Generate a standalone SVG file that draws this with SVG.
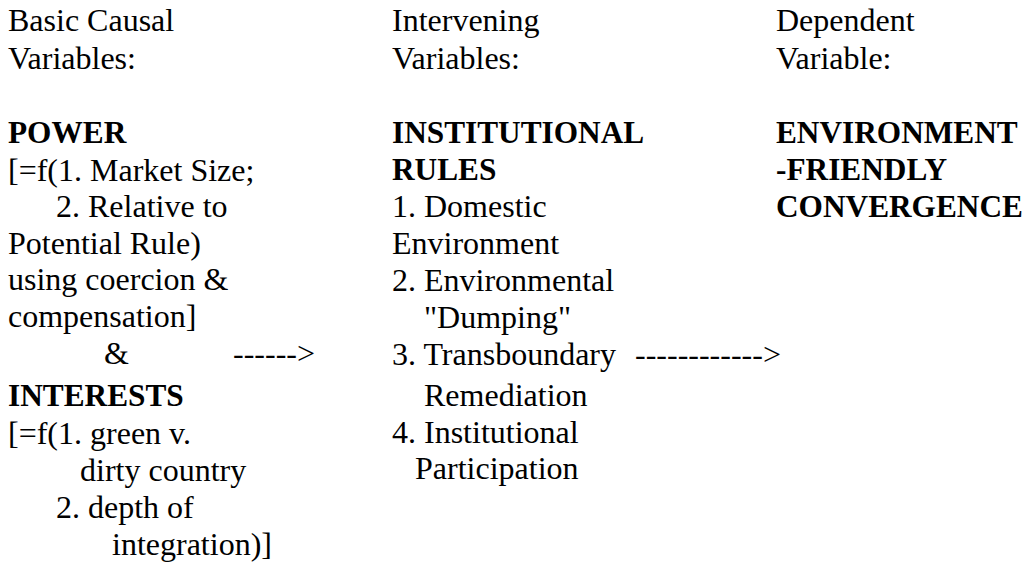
<svg xmlns="http://www.w3.org/2000/svg" width="1031" height="567" viewBox="0 0 1031 567">
<style>
.t{font-family:'Liberation Serif','Times New Roman',Tinos,'DejaVu Serif',serif;font-size:32px;fill:#000}
.b{font-weight:bold;font-size:31.3px}
</style>
<rect width="1031" height="567" fill="#fff"/>
<g class="t">
<g id="basic-causal">
<text x="8" y="31">Basic Causal</text>
<text x="8" y="69">Variables:</text>
<text x="8" y="143" class="b">POWER</text>
<text x="8" y="181">[=f(1. Market Size;</text>
<text x="56" y="217">2. Relative to</text>
<text x="8" y="254">Potential Rule)</text>
<text x="8" y="290">using coercion &amp;</text>
<text x="8" y="327">compensation]</text>
<text x="104" y="364">&amp;</text>
<text x="8" y="406" class="b">INTERESTS</text>
<text x="8" y="444">[=f(1. green v.</text>
<text x="80" y="481">dirty country</text>
<text x="56" y="518">2. depth of</text>
<text x="112" y="555">integration)]</text>
</g>
<g id="intervening">
<text x="392" y="31">Intervening</text>
<text x="392" y="69">Variables:</text>
<text x="392" y="143" class="b">INSTITUTIONAL</text>
<text x="392" y="180" class="b">RULES</text>
<text x="392" y="217">1. Domestic</text>
<text x="392" y="254">Environment</text>
<text x="392" y="291">2. Environmental</text>
<text x="424" y="328">"Dumping"</text>
<text x="392" y="365">3. Transboundary</text>
<text x="424" y="406">Remediation</text>
<text x="392" y="443">4. Institutional</text>
<text x="415" y="479">Participation</text>
</g>
<g id="dependent">
<text x="776" y="31">Dependent</text>
<text x="776" y="69">Variable:</text>
<text x="776" y="143" class="b">ENVIRONMENT</text>
<text x="776" y="180" class="b">-FRIENDLY</text>
<text x="776" y="217" class="b">CONVERGENCE</text>
</g>
<g id="connectors">
<text x="233" y="364">------&gt;</text>
<text x="635" y="365">------------&gt;</text>
</g>
</g>
</svg>
